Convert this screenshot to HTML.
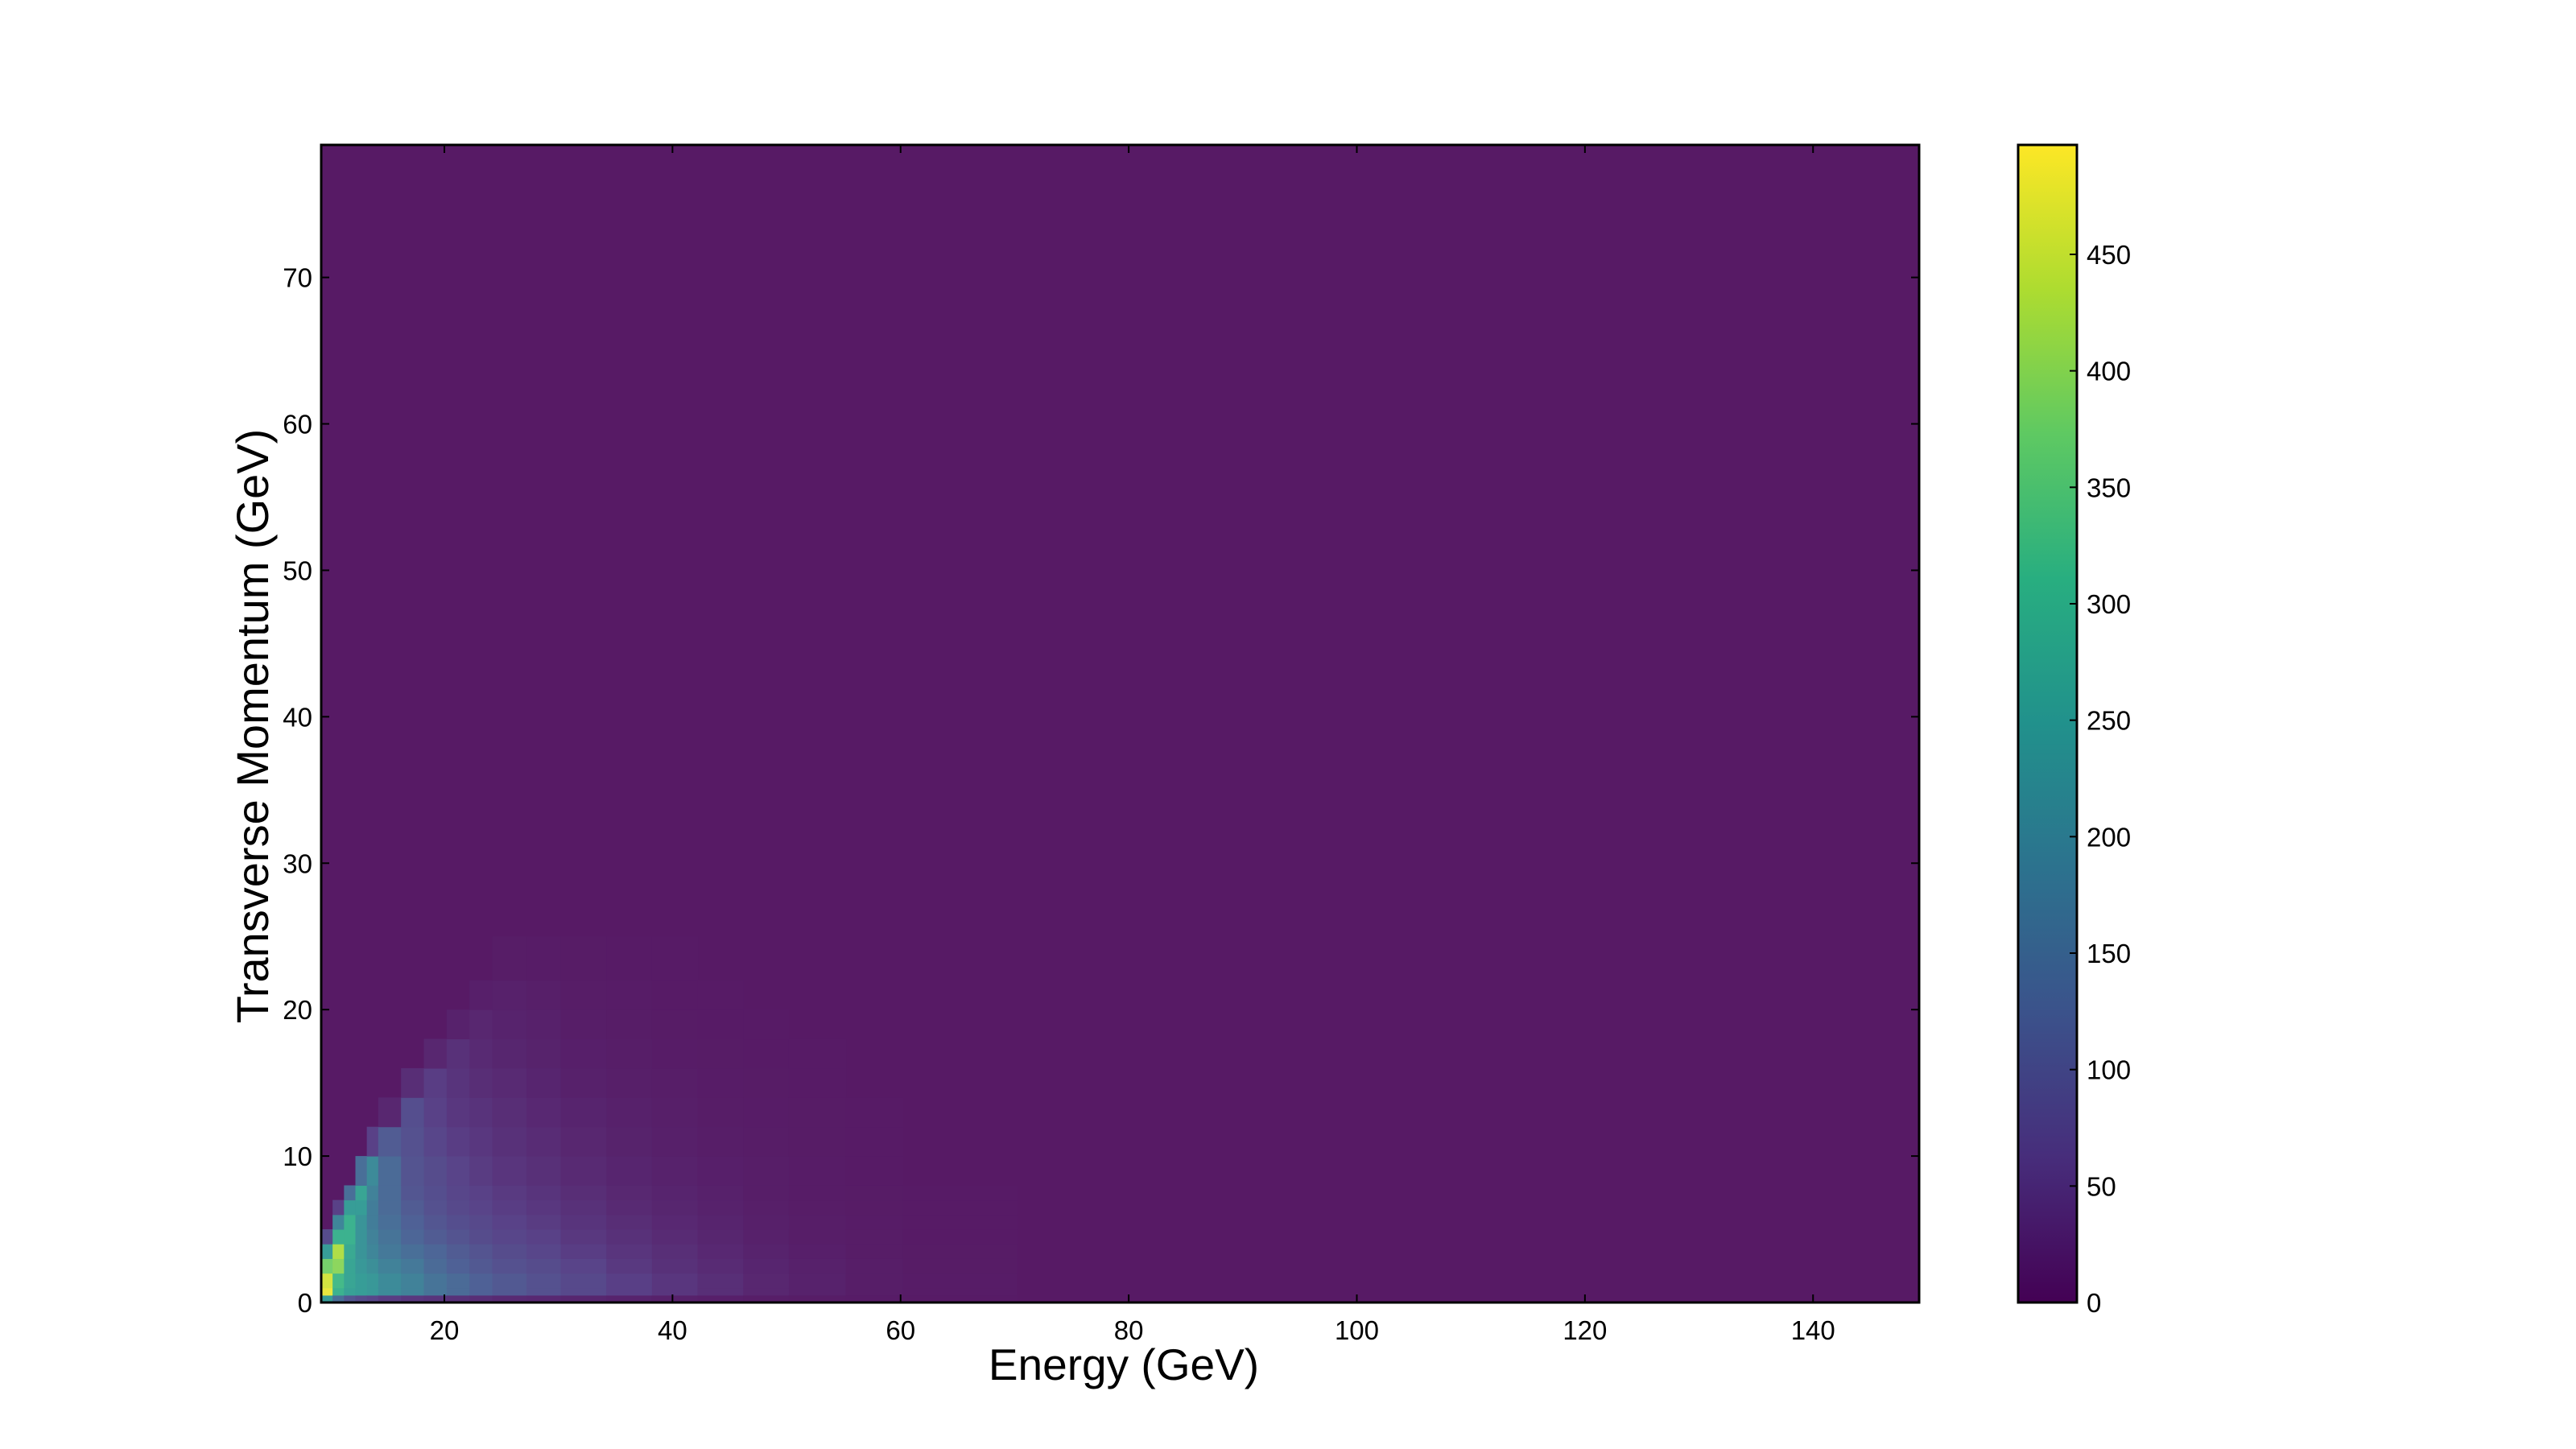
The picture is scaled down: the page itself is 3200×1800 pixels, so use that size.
<!DOCTYPE html>
<html><head><meta charset="utf-8"><style>
html,body{margin:0;padding:0;background:#fff;}
svg{display:block;font-family:"Liberation Sans",sans-serif;}
</style></head><body>
<svg id="chart" width="3200" height="1800" viewBox="0 0 3200 1800">
<defs>
<linearGradient id="vir" x1="0" y1="1" x2="0" y2="0">
<stop offset="0" stop-color="#440154"/><stop offset="0.125" stop-color="#472d7b"/><stop offset="0.25" stop-color="#3b528b"/><stop offset="0.375" stop-color="#2c728e"/><stop offset="0.5" stop-color="#21918c"/><stop offset="0.625" stop-color="#28ae80"/><stop offset="0.75" stop-color="#5ec962"/><stop offset="0.875" stop-color="#addc30"/><stop offset="1" stop-color="#fde725"/>
</linearGradient>
</defs>
<g id="plot"></g>
<g id="axes"></g>
<g id="cbar"></g>
<text x="1396" y="1714" font-size="55" text-anchor="middle">Energy (GeV)</text>
<text transform="translate(333,902) rotate(-90)" font-size="56" text-anchor="middle">Transverse Momentum (GeV)</text>
</svg>
<script>
const xEdges=[9.2,10.2,11.2,12.2,13.2,14.2,16.2,18.2,20.2,22.2,24.2,27.2,30.2,34.2,38.2,42.2,46.2,50.2,55.2,60.2,70.2];
const yEdges=[0,0.5,1,2,3,4,5,6,7,8,10,12,14,16,18,20,22,25];
const counts=[
[250,480,460,380,250,80,0,0,0,0,0,0,0,0,0,0,0],
[150,300,320,400,430,300,200,60,0,0,0,0,0,0,0,0,0],
[100,260,270,270,280,300,300,250,150,0,0,0,0,0,0,0,0],
[80,250,250,240,230,230,230,250,270,150,0,0,0,0,0,0,0],
[70,240,240,220,200,190,180,180,190,210,60,0,0,0,0,0,0],
[55,210,210,190,170,160,150,140,140,140,110,20,0,0,0,0,0],
[45,190,190,170,150,130,120,110,100,95,90,85,30,0,0,0,0],
[40,160,160,140,130,110,100,90,85,80,70,60,55,20,0,0,0],
[35,140,140,120,110,95,85,75,70,65,55,45,40,35,12,0,0],
[30,120,120,105,95,80,75,65,60,52,45,38,30,25,20,8,0],
[25,105,105,90,80,70,62,55,50,42,36,30,24,18,14,10,4],
[22,90,90,80,70,60,52,45,40,34,28,22,17,13,10,7,3],
[18,75,75,65,55,46,40,35,30,25,20,15,11,8,6,4,2],
[14,58,58,48,42,35,30,25,21,17,13,10,7,5,4,3,1],
[10,44,44,36,32,26,22,18,15,12,9,7,5,3,2,1,1],
[8,32,32,26,22,18,15,12,10,8,6,4,3,2,1,1,0],
[6,20,20,17,14,11,9,7,6,5,4,3,2,1,1,0,0],
[4,12,12,10,8,6,5,4,3,3,2,2,1,1,0,0,0],
[3,6,6,5,4,4,3,2,2,1,1,1,0,0,0,0,0],
[1,3,3,2,2,1,1,1,1,0,0,0,0,0,0,0,0]
];
const xTicks=[20,40,60,80,100,120,140];
const yTicks=[0,10,20,30,40,50,60,70];
const cTicks=[0,50,100,150,200,250,300,350,400,450];
const xDomain=[9.2,149.3], yDomain=[0,79.05], cDomain=[0,497];

const L=399,R=2384,T=180,B=1618;
const CL=2507,CR=2580;
const sx=v=>L+(v-xDomain[0])/(xDomain[1]-xDomain[0])*(R-L);
const sy=v=>B-(v-yDomain[0])/(yDomain[1]-yDomain[0])*(B-T);
const sc=v=>B-(v-cDomain[0])/(cDomain[1]-cDomain[0])*(B-T);
const VIR=[[68,1,84],[71,45,123],[59,82,139],[44,114,142],[33,145,140],[40,174,128],[94,201,98],[173,220,48],[253,231,37]];
function color(v){
  let t=Math.max(0,Math.min(1,(v-cDomain[0])/(cDomain[1]-cDomain[0])))*(VIR.length-1);
  const i=Math.min(VIR.length-2,Math.floor(t)),f=t-i;
  const c=VIR[i].map((a,k)=>a+(VIR[i+1][k]-a)*f).map(a=>Math.round(0.9*a+0.1*255));
  return `rgb(${c[0]},${c[1]},${c[2]})`;
}
const NS='http://www.w3.org/2000/svg';
function mk(tag,attrs,parent){const e=document.createElementNS(NS,tag);for(const k in attrs)e.setAttribute(k,attrs[k]);parent.appendChild(e);return e;}
const plot=document.getElementById('plot'),axes=document.getElementById('axes'),cbar=document.getElementById('cbar');
const bg=mk('rect',{x:L,y:T,width:R-L,height:B-T,fill:color(0)},plot);


counts.forEach((col,i)=>{col.forEach((v,j)=>{
  if(v<=0)return;
  const x0=sx(xEdges[i]),x1=sx(xEdges[i+1]),y0=sy(yEdges[j+1]),y1=sy(yEdges[j]);
  const r=mk('rect',{x:x0,y:y0,width:x1-x0+0.5,height:y1-y0+0.5,fill:color(v)},plot);
  
  
});});
const frame=mk('rect',{x:L,y:T,width:R-L,height:B-T,fill:'none',stroke:'#000','stroke-width':3},axes);


xTicks.forEach(v=>{
  const x=sx(v);
  mk('line',{x1:x,x2:x,y1:B,y2:B-10,stroke:'#000','stroke-width':2},axes);
  mk('line',{x1:x,x2:x,y1:T,y2:T+10,stroke:'#000','stroke-width':2},axes);
  const t=mk('text',{x:x,y:B+46,'font-size':33,'text-anchor':'middle'},axes);
  t.textContent=v;
  
  
});
yTicks.forEach(v=>{
  const y=sy(v);
  mk('line',{x1:L,x2:L+10,y1:y,y2:y,stroke:'#000','stroke-width':2},axes);
  mk('line',{x1:R,x2:R-10,y1:y,y2:y,stroke:'#000','stroke-width':2},axes);
  const t=mk('text',{x:388,y:y+12,'font-size':33,'text-anchor':'end'},axes);
  t.textContent=v;
  
  
});
const cb=mk('rect',{x:CL,y:T,width:CR-CL,height:B-T,fill:'url(#vir)',stroke:'#000','stroke-width':3},cbar);


cTicks.forEach(v=>{
  const y=sc(v);
  mk('line',{x1:CR,x2:CR-9,y1:y,y2:y,stroke:'#000','stroke-width':2},cbar);
  const t=mk('text',{x:CR+12,y:y+12,'font-size':33,'text-anchor':'start'},cbar);
  t.textContent=v;
  
  
});
</script>
</body></html>
